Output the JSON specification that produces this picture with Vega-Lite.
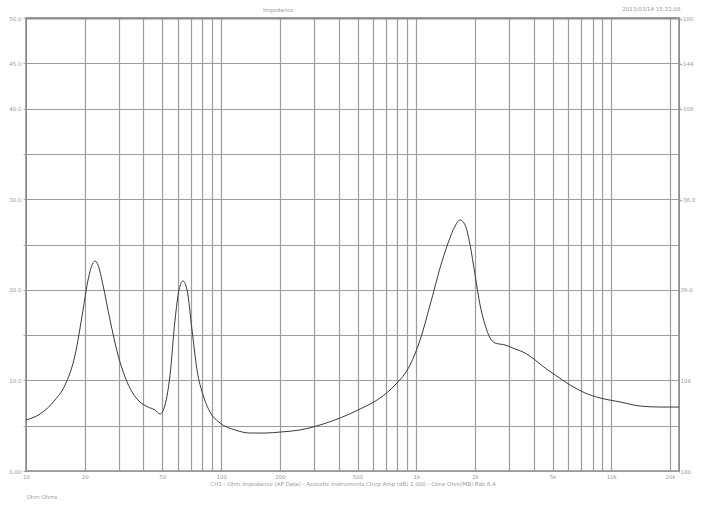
{
  "$schema": "https://vega.github.io/schema/vega-lite/v6.json",
  "width": 653,
  "height": 453,
  "autosize": "none",
  "padding": {"left": 26, "top": 18, "right": 26, "bottom": 37},
  "background": "white",
  "config": {
    "view": {"stroke": "#8c8c8c", "strokeWidth": 1.5},
    "font": "DejaVu Sans",
    "axis": {"labelColor": "#9a9a9a", "titleColor": "#9a9a9a", "labelFontSize": 5.5, "titleFontSize": 5.5, "titleFontWeight": "normal", "gridColor": "#9c9c9c", "gridWidth": 1.2, "gridOpacity": 1, "domainColor": "#8c8c8c", "tickColor": "#a0a0a0"},
    "title": {"color": "#9a9a9a", "fontSize": 5.5, "fontWeight": "normal"}
  },
  "title": {"text": "Impedance", "anchor": "start", "frame": "group", "dx": 237, "offset": 0, "dy": 12, "baseline": "bottom"},
  "data": {"values": [
    {"f": 10.0, "z": 5.63}, {"f": 11.8, "z": 6.29}, {"f": 14.08, "z": 7.84}, {"f": 15.85, "z": 9.49},
    {"f": 17.84, "z": 12.8}, {"f": 19.6, "z": 17.77}, {"f": 20.79, "z": 21.08}, {"f": 22.05, "z": 22.96},
    {"f": 22.58, "z": 23.18}, {"f": 23.39, "z": 22.74}, {"f": 24.8, "z": 20.53}, {"f": 26.95, "z": 16.67},
    {"f": 29.62, "z": 12.8}, {"f": 32.17, "z": 10.38}, {"f": 34.95, "z": 8.72}, {"f": 38.39, "z": 7.62},
    {"f": 42.2, "z": 7.06}, {"f": 45.84, "z": 6.73}, {"f": 48.63, "z": 6.29}, {"f": 51.59, "z": 7.29},
    {"f": 54.72, "z": 10.6}, {"f": 58.03, "z": 16.67}, {"f": 60.83, "z": 19.98}, {"f": 63.77, "z": 20.97},
    {"f": 66.87, "z": 19.98}, {"f": 70.93, "z": 15.56}, {"f": 75.24, "z": 11.15}, {"f": 80.79, "z": 8.39},
    {"f": 87.73, "z": 6.51}, {"f": 98.7, "z": 5.3}, {"f": 117.9, "z": 4.53}, {"f": 140.6, "z": 4.19},
    {"f": 167.9, "z": 4.19}, {"f": 200.4, "z": 4.3}, {"f": 253.7, "z": 4.53}, {"f": 321.3, "z": 5.08},
    {"f": 406.8, "z": 5.85}, {"f": 515.1, "z": 6.84}, {"f": 652.4, "z": 8.06}, {"f": 778.5, "z": 9.49},
    {"f": 929.3, "z": 11.7}, {"f": 1046, "z": 14.46}, {"f": 1177, "z": 18.32}, {"f": 1324, "z": 22.41},
    {"f": 1456, "z": 25.17}, {"f": 1581, "z": 27.04}, {"f": 1677, "z": 27.71}, {"f": 1779, "z": 27.15},
    {"f": 1887, "z": 24.95}, {"f": 2001, "z": 21.63}, {"f": 2123, "z": 18.32}, {"f": 2252, "z": 16.12},
    {"f": 2389, "z": 14.68}, {"f": 2534, "z": 14.13}, {"f": 2852, "z": 13.91}, {"f": 3210, "z": 13.47},
    {"f": 3612, "z": 13.02}, {"f": 4065, "z": 12.25}, {"f": 4574, "z": 11.37}, {"f": 5147, "z": 10.6},
    {"f": 6143, "z": 9.49}, {"f": 7332, "z": 8.61}, {"f": 8753, "z": 8.06}, {"f": 11080, "z": 7.62},
    {"f": 14030, "z": 7.17}, {"f": 17760, "z": 7.06}, {"f": 22200, "z": 7.06}
  ]},
  "layer": [
    {
      "mark": {"type": "line", "color": "#3a3a3a", "strokeWidth": 1, "interpolate": "monotone"},
      "encoding": {
        "x": {"field": "f", "type": "quantitative", "scale": {"type": "log", "domain": [10, 22200], "nice": false},
          "axis": {
            "values": [10,20,30,40,50,60,70,80,90,100,200,300,400,500,600,700,800,900,1000,2000,3000,4000,5000,6000,7000,8000,9000,10000,20000],
            "labelExpr": "indexof([10,20,50,100,200,500,1000,2000,5000,10000,20000], datum.value) >= 0 ? (datum.value >= 1000 ? (datum.value/1000) + 'k' : datum.value + '') : ''",
            "grid": true, "ticks": false, "domain": false, "labelPadding": 3, "labelFlush": false,
            "title": "CH1 - Ohm  Impedance (AP Data) - Acoustic Instruments  Chirp Amp (dB) 1.000 - Cone Ohm(MB) Rdc 6.4",
            "titlePadding": 2
          }},
        "y": {"field": "z", "type": "quantitative", "scale": {"domain": [0, 50], "nice": false, "zero": true},
          "axis": {
            "values": [0,5,10,15,20,25,30,35,40,45,50],
            "labelExpr": "indexof([0,10,20,30,40,45,50], datum.value) >= 0 ? (datum.value == 0 ? '0.00' : format(datum.value, '.1f')) : ''",
            "grid": true, "ticks": true, "tickSize": 3, "domain": true, "labelPadding": 2,
            "title": "Ohm  Ohms", "titleAngle": 0, "titleX": 0, "titleY": 478, "titleAlign": "left", "titleBaseline": "middle"
          }}
      }
    },
    {
      "mark": {"type": "line", "opacity": 0},
      "encoding": {
        "x": {"field": "f", "type": "quantitative", "scale": {"type": "log", "domain": [10, 22200], "nice": false},
          "axis": {"orient": "top", "values": [10,20,30,40,50,60,70,80,90,100,200,300,400,500,600,700,800,900,1000,2000,3000,4000,5000,6000,7000,8000,9000,10000,20000], "labels": false, "grid": false, "ticks": true, "tickSize": -4, "domain": true, "domainWidth": 2, "title": null}},
        "y": {"field": "z", "type": "quantitative", "scale": {"domain": [0, 50], "nice": false},
          "axis": {
            "orient": "right",
            "values": [0,5,10,15,20,25,30,35,40,45,50],
            "labelExpr": "datum.value == 50 ? '+180' : datum.value == 45 ? '+144' : datum.value == 40 ? '+108' : datum.value == 30 ? '+36.0' : datum.value == 20 ? '-36.0' : datum.value == 10 ? '-108' : datum.value == 0 ? '-180' : ''",
            "grid": false, "ticks": true, "tickSize": -4, "domain": true, "labelPadding": 3,
            "title": "2013/03/14 15:22:08", "titleAngle": 0, "titleX": 1, "titleY": -10, "titleAlign": "right", "titleBaseline": "middle"
          }}
      }
    }
  ],
  "resolve": {"axis": {"x": "independent", "y": "independent"}}
}
